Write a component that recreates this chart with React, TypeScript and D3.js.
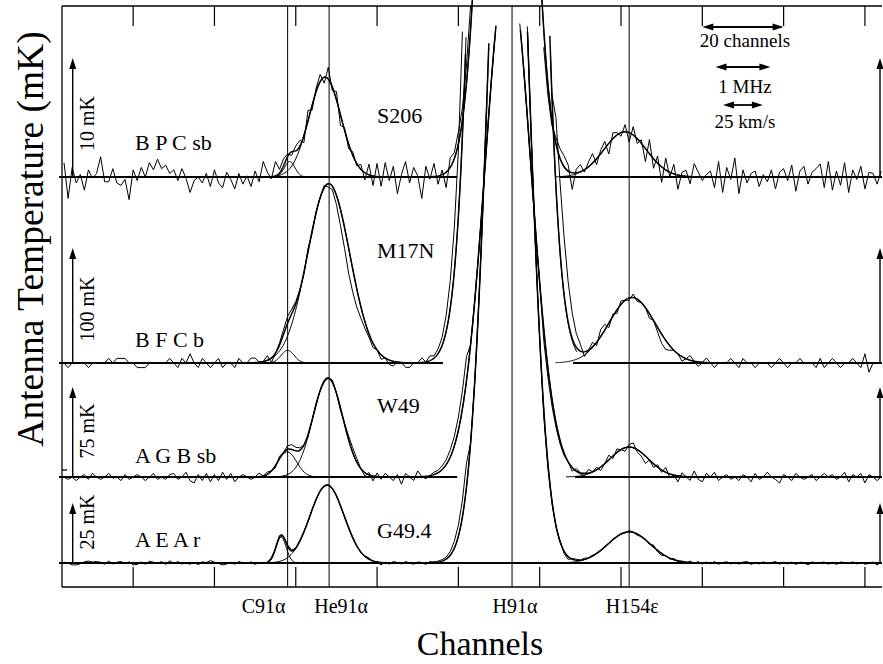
import React from "react";
import * as d3 from "d3";

const WIDTH = 883;
const HEIGHT = 664;

// ---------- data ----------
const channelTicks = [20, 40, 60, 80, 100, 120, 140, 160, 180, 200];
const lineNames = ["C91α", "He91α", "H91α", "H154ε"];
const lineChannels = [58.0, 68.2, 113.2, 142.0];

const sourceNames = ["S206", "M17N", "W49", "G49.4"];
const obsCodes = ["B P C sb", "B F C b", "A G B sb", "A E A r"];
const scaleBarsMK = [10, 100, 75, 25];

const resolutionLabels = ["20 channels", "1 MHz", "25 km/s"];
const resolutionChannels = [20, 13.5, 9.8];

// Gaussian fit components [amplitude mK, centre channel, sigma channels]: C91α, He91α, H91α, H154ε
const fitS206 = [[1.3, 58.5, 1.3], [8.4, 67.2, 3.9], [84, 112.0, 4.6], [3.8, 141.0, 5.2]];
const fitM17N = [[11, 58.0, 1.6], [156, 68.1, 5.2], [2070, 112.2, 5.17], [57, 142.7, 5.7]];
const fitW49 = [[21, 57.9, 2.3], [82.5, 67.9, 3.65], [433, 112.2, 5.56], [25, 142.0, 4.7]];
const fitG494 = [[10.8, 56.4, 1.25], [32.5, 67.7, 4.2], [369, 112.3, 4.65], [13, 142.0, 5.2]];

// residuals (observed - fit, mK), one per channel starting at channel 3
const residS206 = [
  1.2, -1.8, 0.8, -0.5, 0.2, -1.1, 0.6, -0.1, 0.3, 1.7, -0.4, -0.4, 0.7, -0.5, -0.7, -0.2, -1.9, 0.6, -0.3, 0.8,
  0.0, 1.2, 0.6, 1.5, 0.7, 1.0, 0.3, 0.6, -0.3, 0.7, -0.1, -1.3, -0.3, 0.0, -0.5, 0.3, -0.8, 0.6,
  -0.5, -0.9, 0.4, -0.2, -1.0, 0.3, -0.6, 0.1, -0.8, 0.5, -0.4, 1.3, 0.4, -0.2, 1.2, 0.3, 0.6, 0.2, -0.3, 0.4,
  0.5, -0.6, 0.9, -0.4, 0.3, 0.6, -0.5, 1.0, -0.3, 0.7, -0.9, 0.2, -0.4, 0.3, -0.2, 0.4, -0.6, 0.9, -0.8, 1.1,
  -0.8, 1.2, -0.3, 0.9, -1.4, 0.2, 1.3, -0.5, 0.8, 0.1, -1.8, 0.9, -0.2, 1.1, -0.7, 0.4, -1.3, 0.8, 0.5, 1.0,
  1.0, 1.5, 2, 0, 0, 0, 0, 0, 0, 0, 0, 0, 0, 0, 0, 0, 0, 0, 0, 0, -1.5, -1, -0.5, 0.5, 0.8,
  0.9, 0.5, -1.4, 0.3, 0.6, -0.2, 0.4, 0.8, -0.5, 0.3, 0.6, -0.9, 0.5, 0.2, -0.3, 0.6, -0.8, 0.7, -0.4, 0.3,
  -1.1, 1.2, -0.8, 0.6, -1.3, 1.0, -0.4, 0.8, -1.2, 0.3, 0.5, -0.6, 1.1, 0.4, -0.3, 0.2, 0.5, -0.9, 1.3, -1.3,
  0.8, -0.2, 1.6, -1.4, 0.6, -0.5, 0.3, 0.5, -0.8, 0.2, -0.4, 0.6, -1.0, 0.4, 0.7, -0.3, 1.0, -1.2, 0.5, 0.9,
  -0.6, 0.4, 0.7, 1.1, -0.9, 1.3, -1.1, 0.5, -0.7, 1.2, -1.3, 0.6, -0.2, 0.9, -1.0, 0.4, 0.3, -0.6, 0.5,
];
const residM17N = [
  0, -4, 0, 0, 0, 0, -4, 0, 0, 0, 0, 4, 0, 4, 4, 4, 0, 0, -4, -4, -4, 0, 0, 0, 0, 0, 4, 0, -4, 4,
  0, 8, 0, -4, 4, 0, -4, 0, 4, -4, 0, 0, -4, 4, 0, 0, 4, 4, 0, 0, 4, -4, 0, 2, 4,
  6, 4, 2, 0, -2, 3, -2, 1, 0, 2, -3, -3, -8, -14, -18, -22, -20, -16, -10, -6, -3, -4, 0,
  -4, 0, -4, -4, 0, 0, -4, -4, 0, 0, 4, 0, 4, 2, 4, 7, 14, 24, 38, 57,
  90, 140, 0, 0, 0, 0, 0, 0, 0, 0, 0, 0, 0, 0, 0, 0, 0, 0, 0, 0, -40, -20, 0, 60, 60,
  50, 35, 22, 12, 6, -4, 0, 4, -3, 6, 5, -4, 2, -3, 3, 0, -2, 3, -2, 0,
  0, -4, 0, -4, -8, -8, -4, 0, 0, -4, 0, 4, 0, -4, 0, 4, 0, -4, 0, 0, 0, 4, 0, -4, 4, 0, 0, -4, 0, 0,
  0, -4, 0, 4, 0, -4, 0, 0, 4, 0, 0, 0, -4, 4, -4, 0, 4, 0, -4, 0, 0, 4, 0, -4, 8, -8, 0, 0, 0,
];
const residW49 = [
  0, -2, 0, -3, 0, 2, -2, 3, 0, -2, 0, 3, -1, 0, -3, 2, -2, 0, 2, 0, -3, 0, 3, -2, 0, -2, 2, 3, -2, 0,
  4, -3, -5, 2, -3, 3, -4, 2, -3, 4, -2, 3, -4, 0, 2, 0, -2, 0, 3, 0, 2, 0, -2, 2, 0,
  3, 4, 3, 2, 0, -2, 0, 1, 0, -1, 0, 2, 0, -2, 1, 3, 4, 3, 0, -3, 2, -4, 3,
  -2, 3, 0, -3, 2, -6, 3, 0, -3, 5, 0, -2, 0, 2, 2, 3, 4, 6, 8, 11,
  15, 20, 0, 0, 0, 0, 0, 0, 0, 0, 0, 0, 0, 0, 0, 0, 0, 0, 0, 0, -10, -8, -6, -4, -3,
  -2, 0, -3, 2, 0, -2, 3, 0, 2, -3, 0, 4, -2, 3, 0, -3, 2, 4, -2, -3,
  -6, 0, -3, 2, -2, 4, -3, 0, -5, 3, 0, -3, 5, -2, -4, 3, 0, 4, -3, 0, 2, -2, 0, -3, 2, 0, -4, 3, -2, 0,
  4, 0, -2, -5, 2, 0, -3, 3, 0, -2, 0, 2, -3, 0, 3, 0, 2, -2, 0, 4, -4, 2, 0, 3, -5, 2, 0, -3, 0,
];
const residG494 = [
  0.3, 0, -0.8, -0.8, -0.3, 0.5, 0.8, 0.4, 0.6, 0.3, -0.5, 0.8, -0.4, 0.3, 0.6, -0.3, 0.5, -0.8, -0.6, 0.4,
  -0.5, 0.7, 0.3, -0.2, 0.6, -0.6, 0.9, -0.3, 0.6, -0.4, 0.0, -0.5, 0.3, -0.7, 0.5, 0.2, 1.0, 0.3, -0.2, -0.8,
  -0.4, 0.3, -0.5, 0.6, 0.0, -0.3, 0.5, -0.6, 0.2, 0.0, -0.3, 0.4, -0.2, 0.5, 0.0,
  0.5, 0.3, 0, 0.3, 0, -0.3, 0.2, 0, 0, -0.2, 0.2, 0, 0.3, -0.2, 0, 0.3, 0.2, 0, -0.3, 0.2, 0.5, -0.2, 0,
  -1.0, 0.3, -0.5, 0.6, 0.2, -0.4, 0.6, 0.0, -0.5, 0.4, 0.2, -0.6, 0.5, 0.3, 0.4, 0.6, 0.8, 1.5, 2.9, 4.6,
  7, 10, 0, 0, 0, 0, 0, 0, 0, 0, 0, 0, 0, 0, 0, 0, 0, 0, 0, 0, -3, -2, -1, -0.5, 0.5,
  -1.0, -1.2, 0.3, 0.4, 0, 0.5, 0, 0.3, 0, -0.3, 0.2, 0, 0.3, 0, 0, -0.3, 0.5, 0.2, -0.5, 0,
  0.3, -0.5, 0.8, -0.6, -0.8, 0.2, -0.4, 0.5, -0.5, 0.3, -0.5, 0.6, -0.3, 0.5, -0.5, 0.4, -0.3, 0.6, -0.5, 0.2,
  0.5, -0.4, 0.3, -0.5, 0.4, 0.6, -0.6, 0.3, -0.4, 0.5, -0.3, 0.2, 0.6, -0.5, 0.3, -0.4, 0.4, -0.6, 0.3, 0.2,
  -0.8, 0.5, -0.3, 0.2, 0.4, -0.5, 0.3, -0.6, 0.4, 0.2, -0.3, 0.5, -0.4, 0.3, -0.5, -0.2, 0.4, -0.8, 0.3,
];

const FIRST_CHANNEL = 3;

// ---------- helpers ----------
function gauss(comp: number[], ch: number) {
  const [a, c, s] = comp;
  return a * Math.exp(-((ch - c) ** 2) / (2 * s * s));
}
function fitValue(fit: number[][], ch: number) {
  let v = 0;
  for (const comp of fit) v += gauss(comp, ch);
  return v;
}

const FONT = "Liberation Serif, Times New Roman, serif";

function upArrow(xp: number, y0: number, y1: number, key: string) {
  return (
    <g key={key}>
      <line x1={xp} x2={xp} y1={y0} y2={y1 + 6} stroke="#000" strokeWidth={1.4} />
      <path d={`M${xp},${y1} L${xp - 3.5},${y1 + 11} L${xp + 3.5},${y1 + 11} Z`} fill="#000" />
    </g>
  );
}

function hDoubleArrow(x1: number, x2: number, yp: number, key: string) {
  return (
    <g key={key}>
      <line x1={x1 + 6} x2={x2 - 6} y1={yp} y2={yp} stroke="#000" strokeWidth={1.8} />
      <path d={`M${x1},${yp} L${x1 + 11},${yp - 3.5} L${x1 + 11},${yp + 3.5} Z`} fill="#000" />
      <path d={`M${x2},${yp} L${x2 - 11},${yp - 3.5} L${x2 - 11},${yp + 3.5} Z`} fill="#000" />
    </g>
  );
}

export default function App() {
  const left = 62;
  const right = 882;
  const frameTop = 6;
  const frameBottom = 587;

  const x = d3.scaleLinear().domain([2.5, 204.2]).range([left, right]);

  const fits = [fitS206, fitM17N, fitW49, fitG494];
  const resids = [residS206, residM17N, residW49, residG494];

  const layouts = [
    { base: 177, barPx: 119, clipTop: -40, gap: [99.7, 125.0], codeY: 150, nameY: 123, scaleDy: 53.5 },
    { base: 363, barPx: 115, clipTop: 30, gap: [96.2, 128.2], codeY: 347, nameY: 258, scaleDy: 54 },
    { base: 477, barPx: 90, clipTop: 22, gap: [99.7, 128.7], codeY: 463, nameY: 413, scaleDy: 46 },
    { base: 563, barPx: 60, clipTop: 25, gap: null as null | number[], codeY: 547, nameY: 538, scaleDy: 41 },
  ];

  const fineCh = d3.range(FIRST_CHANNEL, 204.001, 0.25);

  const panels = sourceNames.map((name, i) => {
    const L = layouts[i];
    const fit = fits[i];
    const y = d3.scaleLinear().domain([0, scaleBarsMK[i]]).range([L.base, L.base - L.barPx]);
    const line = d3
      .line<[number, number]>()
      .x((d) => x(d[0]))
      .y((d) => y(d[1]))
      .defined((d) => y(d[1]) >= L.clipTop);

    const fitPts: [number, number][] = fineCh.map((c) => [c, fitValue(fit, c)]);
    const obsPts: [number, number][] = resids[i].map((r, k) => {
      const ch = FIRST_CHANNEL + k;
      return [ch, fitValue(fit, ch) + r];
    });
    const compPaths = fit.map((comp) => {
      const [, c, s] = comp;
      const pts: [number, number][] = d3
        .range(Math.max(FIRST_CHANNEL, c - 3.3 * s), Math.min(204, c + 3.3 * s), 0.25)
        .map((ch) => [ch, gauss(comp, ch)]);
      return line(pts) || "";
    });

    const segs: [number, number][] = L.gap
      ? [
          [x.invert(left - 3), L.gap[0]],
          [L.gap[1], 204.2],
        ]
      : [[x.invert(left - 3), 204.2]];

    return (
      <g key={name}>
        {segs.map((s, k) => (
          <line
            key={"b" + k}
            x1={x(s[0])}
            x2={x(s[1])}
            y1={L.base}
            y2={L.base}
            stroke="#000"
            strokeWidth={2}
          />
        ))}
        {compPaths.map((p, k) => (
          <path key={"c" + k} d={p} fill="none" stroke="#000" strokeWidth={1} />
        ))}
        <path d={line(fitPts) || ""} fill="none" stroke="#000" strokeWidth={1.5} />
        <path d={line(obsPts) || ""} fill="none" stroke="#000" strokeWidth={1} />
        {upArrow(left + 10.7, L.base, L.base - L.barPx, "la")}
        {upArrow(right - 2, L.base, L.base - L.barPx, "ra")}
        <text
          transform={`translate(${left + 32},${L.base - L.scaleDy}) rotate(-90)`}
          textAnchor="middle"
          fontFamily={FONT}
          fontSize={20}
        >
          {scaleBarsMK[i]} mK
        </text>
        <text x={135} y={L.codeY} fontFamily={FONT} fontSize={22}>
          {obsCodes[i]}
        </text>
        <text x={377} y={L.nameY} fontFamily={FONT} fontSize={22}>
          {name}
        </text>
      </g>
    );
  });

  const labelShift = [-24, 12, 3, 3];

  const resCenter = 170;
  const resY = [27, 67, 105];
  const resLabelY = [47, 93, 128];

  return (
    <svg
      width={WIDTH}
      height={HEIGHT}
      style={{ position: "absolute", left: 0, top: 0, background: "#fff" }}
    >
      <rect x={0} y={0} width={WIDTH} height={HEIGHT} fill="#fff" />
      <line x1={left} x2={right} y1={frameTop} y2={frameTop} stroke="#000" strokeWidth={1.3} />
      <line x1={left} x2={right} y1={frameBottom} y2={frameBottom} stroke="#000" strokeWidth={1.3} />
      <line x1={left} x2={left} y1={frameTop} y2={frameBottom} stroke="#000" strokeWidth={1.3} />
      <line x1={left} x2={left + 5} y1={470} y2={470} stroke="#000" strokeWidth={1.3} />
      {channelTicks.map((t) => (
        <g key={"t" + t}>
          <line x1={x(t)} x2={x(t)} y1={frameTop} y2={frameTop + 20} stroke="#000" strokeWidth={1.2} />
          <line x1={x(t)} x2={x(t)} y1={frameBottom} y2={frameBottom - 20} stroke="#000" strokeWidth={1.2} />
        </g>
      ))}
      {lineChannels.map((c, i) => (
        <g key={"lm" + i}>
          <line x1={x(c)} x2={x(c)} y1={frameTop} y2={frameBottom} stroke="#000" strokeWidth={1} />
          <text
            x={x(c) + labelShift[i]}
            y={613}
            textAnchor="middle"
            fontFamily={FONT}
            fontSize={20}
          >
            {lineNames[i]}
          </text>
        </g>
      ))}
      {panels}
      {resolutionLabels.map((lab, i) => {
        const half = resolutionChannels[i] / 2;
        return (
          <g key={"res" + i}>
            {hDoubleArrow(x(resCenter - half), x(resCenter + half), resY[i], "ra" + i)}
            <text x={x(resCenter) + 2} y={resLabelY[i]} textAnchor="middle" fontFamily={FONT} fontSize={19}>
              {lab}
            </text>
          </g>
        );
      })}
      <text x={480} y={655} textAnchor="middle" fontFamily={FONT} fontSize={34}>
        Channels
      </text>
      <text
        transform={`translate(43,239) rotate(-90)`}
        textAnchor="middle"
        fontFamily={FONT}
        fontSize={37.5}
      >
        Antenna Temperature (mK)
      </text>
    </svg>
  );
}
